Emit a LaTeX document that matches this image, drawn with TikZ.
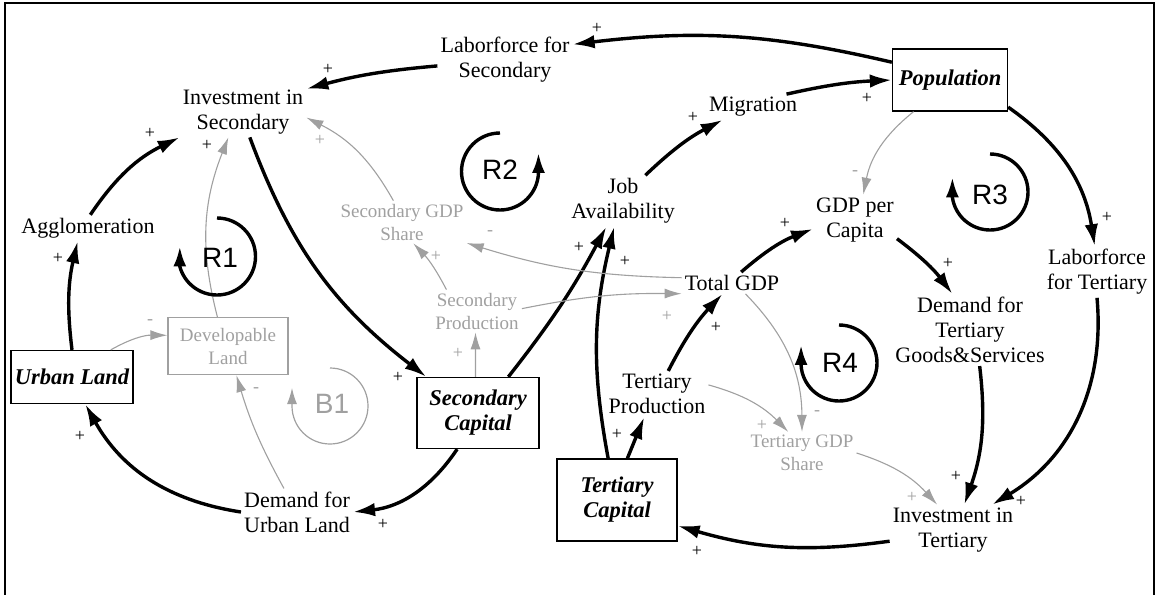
\documentclass[tikz,border=0pt]{standalone}
\usepackage{fontspec}
\setmainfont{Liberation Serif}
\newfontfamily\loopfont{Liberation Sans}
\usetikzlibrary{arrows.meta}
\definecolor{lgray}{RGB}{160,160,160}
\begin{document}
\begin{tikzpicture}[x=1pt,y=1pt,
  var/.style={font=\fontsize{22}{25}\selectfont, align=center, inner sep=3pt},
  gvar/.style={font=\fontsize{19}{23}\selectfont, align=center, text=lgray, inner sep=3pt},
  stock/.style={draw, line width=1.3pt, font=\fontsize{22.5}{25}\selectfont\bfseries\itshape, align=center, inner sep=2pt},
  gstock/.style={draw=lgray, line width=1.3pt, text=lgray, font=\fontsize{19}{23}\selectfont, align=center, inner sep=2pt},
  link/.style={-{Latex[length=22pt,width=13.5pt]}, line width=3.4pt},
  glink/.style={-{Latex[length=17pt,width=10pt]}, line width=1.1pt, draw=lgray},
  sgn/.style={font=\fontsize{18}{18}\selectfont, inner sep=0pt},
  gsgn/.style={sgn, text=lgray},
  loopl/.style={-{Latex[length=20pt,width=13pt]}, line width=3.4pt},
  gloopl/.style={-{Latex[length=16pt,width=10pt]}, line width=1.2pt, draw=lgray},
  looplabel/.style={font=\loopfont\fontsize{28}{28}\selectfont, inner sep=0pt},
]
\useasboundingbox (0,0) rectangle (1158,-594);
\draw[line width=2pt] (5,-596) -- (5,-3) -- (1154,-3) -- (1154,-596);

% variables
\node[var] (lsec) at (505,-60) {Laborforce for\\Secondary};
\node[var] (invsec) at (243,-112) {Investment in\\Secondary};
\node[var] (aggl) at (88,-228) {Agglomeration};
\node[stock, minimum width=122pt, minimum height=53pt] (urban) at (72,-377) {Urban Land};
\node[gstock, minimum width=120pt, minimum height=57pt] (devl) at (228,-346) {Developable\\Land};
\node[var] (demurb) at (297,-512) {Demand for\\Urban Land};
\node[stock, minimum width=122pt, minimum height=71pt] (seccap) at (478,-413) {Secondary\\Capital};
\node[gvar] (secshare) at (402,-222) {Secondary GDP\\Share};
\node[gvar] (secprod) at (477,-311) {Secondary\\Production};
\node[var] (job) at (623,-201) {Job\\Availability};
\node[var] (migr) at (753,-107) {Migration};
\node[stock, minimum width=115pt, minimum height=62pt] (popn) at (950,-80) {Population};
\node[var] (tgdp) at (732,-283) {Total GDP};
\node[var] (gdppc) at (855,-220) {GDP per\\Capita};
\node[var] (labter) at (1097,-272) {Laborforce\\for Tertiary};
\node[var] (demter) at (970,-330) {Demand for\\Tertiary\\Goods\&Services};
\node[var] (invter) at (953,-530) {Investment in\\Tertiary};
\node[gvar] (tershare) at (802,-453) {Tertiary GDP\\Share};
\node[var] (terprod) at (657,-394) {Tertiary\\Production};
\node[stock, minimum width=120pt, minimum height=82pt] (tercap) at (617,-500) {Tertiary\\Capital};

% black links
\draw[link] (popn.163) to[bend right=10] (lsec.13);
\draw[link] (lsec.185) to[bend right=5] (invsec.20);
\draw[link] (aggl.80) to[bend left=15] (invsec.south west);
\draw[link] (urban.north) to[bend left=10] (aggl.232);
\draw[link] (invsec.285) to[bend right=16] (seccap.145);
\draw[link] (seccap.240) to[bend left=25] (demurb.east);
\draw[link] (demurb.west) to[bend left=26] (urban.296);
\draw[link] (seccap.50) to[bend right=5] (job.237);
\draw[link] (tercap.102) to[bend left=12] (job.251);
\draw[link] (job.49) to[bend left=8] (migr.203);
\draw[link] (migr.21) to[bend left=5] (popn.west);
\draw[link] (popn.-25) to[bend left=23] (labter.95);
\draw[link] (tgdp.50) to[bend left=10] (gdppc.192);
\draw[link] (gdppc.-24) to[bend left=8] (demter.116);
\draw[link] (terprod.64) to[bend left=8] (tgdp.229);
\draw[link] (tercap.76) -- (terprod.241);
\draw[link] (demter.-75) to[bend left=13] (invter.66);
\draw[link] (labter.south) to[bend left=32] (invter.33);
\draw[link] (invter.190) to[bend left=12] (tercap.-23);

% gray links
\draw[glink] (devl.110) to[bend left=18] (invsec.240);
\draw[glink] (secshare.112) to[bend right=17] (invsec.-5);
\draw[glink] (secprod.145) to[bend right=8] (secshare.-62);
\draw[glink] (tgdp.174) to[bend left=8] (secshare.-18);
\draw[glink] (secprod.3) to[bend left=6] (tgdp.192);
\draw[glink] (seccap.94) -- (secprod.266);
\draw[glink] (urban.35) to[bend left=15] (devl.170);
\draw[glink] (demurb.119) to[bend left=6] (devl.-74);
\draw[glink] (popn.221) to[bend right=20] (gdppc.72);
\draw[glink] (tgdp.-39) to[bend left=22] (tershare.north);
\draw[glink] (terprod.10) to[bend left=15] (tershare.123);
\draw[glink] (tershare.east) to[bend left=15] (invter.122);

% polarity signs
\node[sgn] (p1) at (597,-28) {+};
\node[sgn] (p2) at (328,-69) {+};
\node[sgn] (p3) at (150,-133) {+};
\node[sgn] (p4) at (58,-258) {+};
\node[sgn] (p5) at (398,-377) {+};
\node[sgn] (p6) at (383,-524) {+};
\node[sgn] (p7) at (80,-436) {+};
\node[sgn] (p8) at (579,-247) {+};
\node[sgn] (p9) at (625,-261) {+};
\node[sgn] (p10) at (693,-117) {+};
\node[sgn] (p11) at (867,-98) {+};
\node[sgn] (p12) at (1107,-217) {+};
\node[sgn] (p13) at (785,-223) {+};
\node[sgn] (p14) at (948,-263) {+};
\node[sgn] (p15) at (716,-327) {+};
\node[sgn] (p16) at (617,-434) {+};
\node[sgn] (p17) at (956,-476) {+};
\node[sgn] (p18) at (1021,-501) {+};
\node[sgn] (p19) at (697,-551) {+};
\node[sgn] (p20) at (207,-145) {+};
\node[gsgn] (q1) at (320,-140) {+};
\node[gsgn] (q2) at (436,-256) {+};
\node[gsgn] (q3) at (490,-233) {-};
\node[gsgn] (q4) at (667,-316) {+};
\node[gsgn] (q5) at (458,-353) {+};
\node[gsgn] (q6) at (150,-322) {-};
\node[gsgn] (q7) at (256,-390) {-};
\node[gsgn] (q8) at (855,-173) {-};
\node[gsgn] (q9) at (817,-413) {-};
\node[gsgn] (q10) at (762,-425) {+};
\node[gsgn] (q11) at (912,-497) {+};

% loop markers
\draw[loopl] (217,-256.5) ++(90:38.5) arc[start angle=90, end angle=-165, radius=38.5] -- ++(0,20);
\node[looplabel] (r1) at (220,-257.5) {R1};
\draw[loopl] (500,-171.5) ++(90:38.5) arc[start angle=90, end angle=358, radius=38.5] -- ++(0,20);
\node[looplabel] (r2) at (500,-170) {R2};
\draw[loopl] (990,-192) ++(90:38) arc[start angle=90, end angle=-172, radius=38] -- ++(0,20);
\node[looplabel] (r3) at (990,-195) {R3};
\draw[loopl] (839,-363) ++(90:38) arc[start angle=90, end angle=-177, radius=38] -- ++(0,20);
\node[looplabel] (r4) at (840,-363) {R4};
\draw[gloopl] (330,-406) ++(90:38) arc[start angle=90, end angle=-180, radius=38] -- ++(0,18);
\node[looplabel, text=lgray] (b1) at (332,-404) {B1};
\end{tikzpicture}
\end{document}
